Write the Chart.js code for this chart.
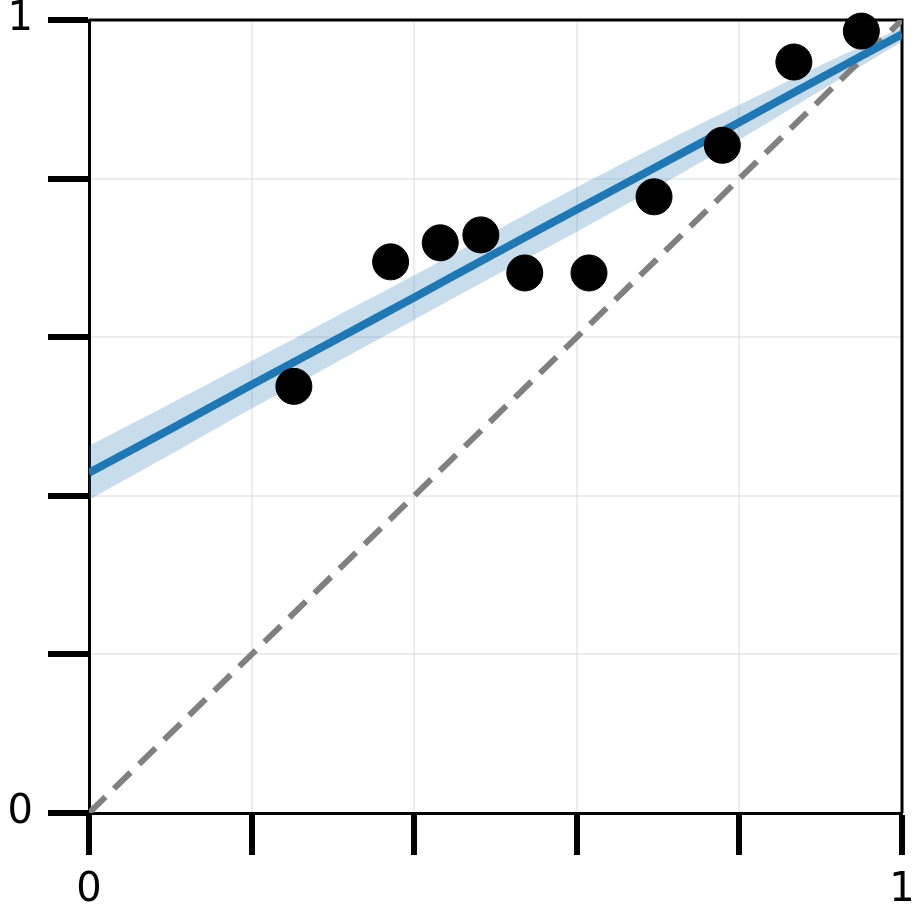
<!DOCTYPE html>
<html>
<head>
<meta charset="utf-8">
<script src="https://cdn.jsdelivr.net/npm/chart.js@4/dist/chart.umd.min.js"></script>
<style>
html,body{margin:0;padding:0;background:#fff;}
#wrap{width:921px;height:916px;}
</style>
</head>
<body>
<div id="wrap"><canvas id="c" width="921" height="916"></canvas></div>
<script>
// Observed points
const pointX = [0.252, 0.371, 0.432, 0.482, 0.536, 0.615, 0.695, 0.779, 0.867, 0.950];
const pointY = [0.538, 0.695, 0.719, 0.729, 0.681, 0.681, 0.777, 0.842, 0.947, 0.986];
// Fitted curve and confidence band
const fitX     = [0, 0.1, 0.2, 0.3, 0.4, 0.5, 0.6, 0.7, 0.8, 0.9, 1.0];
const fitY     = [0.429, 0.484, 0.540, 0.595, 0.650, 0.706, 0.761, 0.816, 0.871, 0.927, 0.982];
const bandUpper= [0.463, 0.516, 0.570, 0.624, 0.678, 0.734, 0.789, 0.842, 0.893, 0.943, 0.991];
const bandLower= [0.395, 0.452, 0.510, 0.566, 0.622, 0.678, 0.733, 0.790, 0.849, 0.911, 0.973];
// Identity line
const diagX = [0, 1];
const diagY = [0, 1];
// Ticks
const tickValues = [0, 0.2, 0.4, 0.6, 0.8, 1.0];
const tickLabels = ['0', '', '', '', '', '1'];

const xy = (xs, ys) => xs.map((x, i) => ({x: x, y: ys[i]}));

const framePlugin = {
  id: 'frame',
  beforeDatasetsDraw(chart) {
    const a = chart.chartArea, ctx = chart.ctx;
    ctx.save();
    ctx.strokeStyle = '#000';
    ctx.lineWidth = 3;
    ctx.beginPath();
    ctx.moveTo(a.left, a.top);
    ctx.lineTo(a.right, a.top);
    ctx.lineTo(a.right, a.bottom);
    ctx.stroke();
    ctx.restore();
  }
};

function setTicks(scale) {
  scale.ticks = tickValues.map(v => ({value: v}));
}
function labelFor(value) {
  const i = tickValues.findIndex(t => Math.abs(t - value) < 1e-9);
  return i >= 0 ? tickLabels[i] : '';
}

new Chart(document.getElementById('c'), {
  type: 'scatter',
  data: {
    datasets: [
      {
        label: 'points',
        data: xy(pointX, pointY),
        backgroundColor: '#000',
        borderColor: '#000',
        pointRadius: 18,
        pointHoverRadius: 18,
        showLine: false,
        clip: false,
        order: 0
      },
      {
        label: 'fit',
        data: xy(fitX, fitY),
        showLine: true,
        borderColor: '#1f77b4',
        borderWidth: 8,
        pointRadius: 0,
        fill: false,
        tension: 0.3,
        order: 1
      },
      {
        label: 'identity',
        data: xy(diagX, diagY),
        showLine: true,
        borderColor: '#808080',
        borderWidth: 6,
        borderDash: [23, 12],
        pointRadius: 0,
        fill: false,
        order: 2
      },
      {
        label: 'upper',
        data: xy(fitX, bandUpper),
        showLine: true,
        borderWidth: 0,
        borderColor: 'rgba(0,0,0,0)',
        backgroundColor: 'rgba(31,119,180,0.25)',
        pointRadius: 0,
        tension: 0.3,
        fill: '+1',
        order: 3
      },
      {
        label: 'lower',
        data: xy(fitX, bandLower),
        showLine: true,
        borderWidth: 0,
        borderColor: 'rgba(0,0,0,0)',
        pointRadius: 0,
        tension: 0.3,
        fill: false,
        order: 4
      }
    ]
  },
  options: {
    responsive: false,
    animation: false,
    events: [],
    layout: {padding: {top: 20, right: 18, left: 0, bottom: 0}},
    plugins: {legend: {display: false}, tooltip: {enabled: false}},
    scales: {
      x: {
        type: 'linear', min: 0, max: 1,
        afterBuildTicks: setTicks,
        afterFit(s) { s.height = 103; s.paddingLeft = 0; s.paddingRight = 0; },
        grid: {color: 'rgba(0,0,0,0.07)', lineWidth: 2, tickLength: 42, tickWidth: 6, tickColor: '#000', drawTicks: true},
        border: {display: true, color: '#000', width: 3},
        ticks: {callback: labelFor, color: '#000', font: {family: 'DejaVu Sans', size: 40}, padding: 12, maxRotation: 0, autoSkip: false}
      },
      y: {
        type: 'linear', min: 0, max: 1,
        afterBuildTicks: setTicks,
        afterFit(s) { s.width = 89; s.paddingTop = 0; s.paddingBottom = 0; },
        grid: {color: 'rgba(0,0,0,0.07)', lineWidth: 2, tickLength: 41, tickWidth: 6, tickColor: '#000', drawTicks: true},
        border: {display: true, color: '#000', width: 3},
        ticks: {callback: labelFor, color: '#000', font: {family: 'DejaVu Sans', size: 40}, padding: 15, autoSkip: false}
      }
    }
  },
  plugins: [framePlugin]
});
</script>
</body>
</html>
